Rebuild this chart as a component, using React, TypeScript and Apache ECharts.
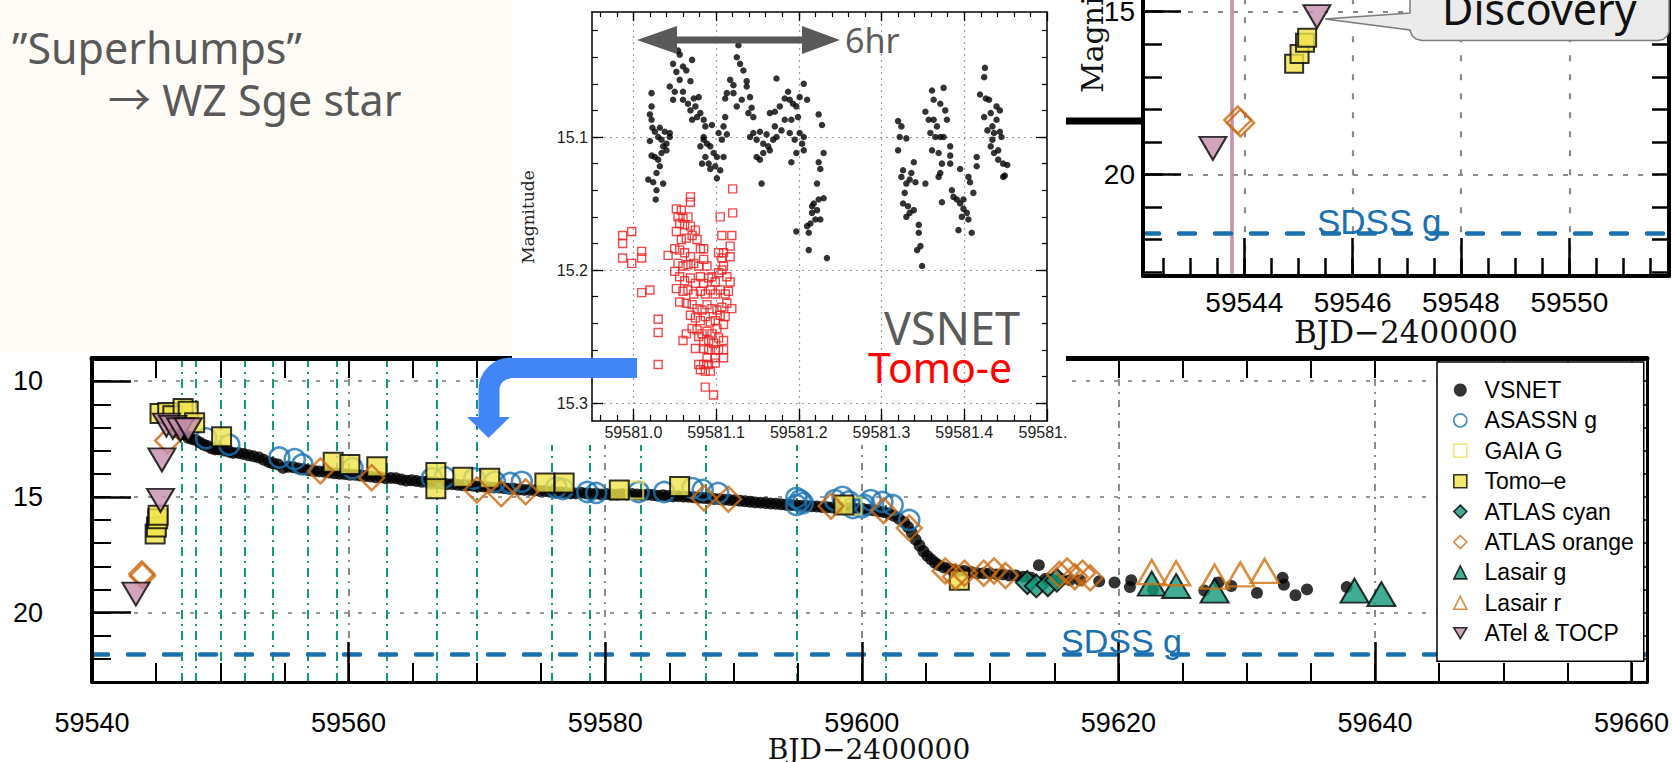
import React, { useEffect, useRef } from "react";
import * as echarts from "echarts";

// ---------------- Main light curve ----------------
const mainDayLabels = [59540, 59560, 59580, 59600, 59620, 59640, 59660];
const mainDayMinor = [59545, 59550, 59555, 59560, 59565, 59570, 59575, 59580, 59585, 59590, 59595, 59600, 59605, 59610, 59615, 59620, 59625, 59630, 59635, 59640, 59645, 59650, 59655, 59660];
const mainGridDays = [59560, 59580, 59600, 59620, 59640];
const mainMagLabels = [10, 15, 20];
const mainMagMinor = [10, 11, 12, 13, 14, 15, 16, 17, 18, 19, 20, 21, 22];
const sdssG = 21.8;
const dashDotDays = [59547.0, 59548.1, 59550.0, 59551.9, 59554.1, 59556.8, 59559.1, 59563.0, 59566.9, 59570.0, 59575.8, 59578.8, 59582.8, 59587.8, 59594.9, 59601.9];

const vsnet = [
  [59546.6, 12.2], [59546.9, 12.3], [59547.2, 12.3], [59547.5, 12.45], [59547.8, 12.5], [59548.1, 12.55], [59548.4, 12.65], [59548.7, 12.75], [59549.0, 12.8], [59549.3, 12.9], [59549.6, 12.95], [59549.9, 12.95],
  [59550.3, 13.0], [59550.7, 13.05], [59551.0, 13.1], [59551.4, 13.1], [59551.8, 13.15], [59552.2, 13.2], [59552.6, 13.25], [59553.0, 13.3], [59553.4, 13.4], [59553.8, 13.5], [59554.1, 13.55], [59554.5, 13.6],
  [59554.9, 13.75], [59555.3, 13.7], [59555.7, 13.72], [59556.1, 13.78], [59556.5, 13.8], [59556.9, 13.85], [59557.3, 13.88], [59557.7, 13.9], [59558.1, 13.92], [59558.5, 13.95], [59558.9, 13.98], [59559.3, 14.0],
  [59559.7, 14.02], [59560.1, 14.05], [59560.5, 14.05], [59560.9, 14.08], [59561.3, 14.1], [59561.7, 14.12], [59562.1, 14.15], [59562.5, 14.15], [59562.9, 14.2], [59563.3, 14.18], [59563.7, 14.2], [59564.1, 14.25],
  [59564.5, 14.3], [59564.9, 14.28], [59565.3, 14.32], [59565.7, 14.35], [59566.1, 14.35], [59566.5, 14.38], [59566.9, 14.4], [59567.3, 14.42], [59567.7, 14.45], [59568.1, 14.45], [59568.5, 14.48], [59568.9, 14.5],
  [59569.3, 14.5], [59569.7, 14.52], [59570.1, 14.55], [59570.5, 14.55], [59570.9, 14.58], [59571.3, 14.6], [59571.7, 14.6], [59572.1, 14.62], [59572.5, 14.65], [59572.9, 14.65], [59573.3, 14.68], [59573.7, 14.7],
  [59574.1, 14.7], [59574.5, 14.72], [59574.9, 14.75], [59575.3, 14.75], [59575.7, 14.78], [59576.1, 14.8], [59576.5, 14.8], [59576.9, 14.82], [59577.3, 14.85], [59577.7, 14.85], [59578.1, 14.82], [59578.5, 14.85],
  [59578.9, 14.88], [59579.3, 14.86], [59579.7, 14.9], [59580.1, 14.88], [59580.5, 14.9], [59580.9, 14.9], [59581.3, 14.88], [59581.7, 14.9], [59582.1, 14.88], [59582.5, 14.9], [59582.9, 14.92], [59583.3, 14.9],
  [59583.7, 14.92], [59584.1, 14.95], [59584.5, 14.93], [59584.9, 14.96], [59585.3, 14.98], [59585.7, 14.97], [59586.1, 14.99], [59586.5, 15.0], [59586.9, 15.02], [59587.3, 15.04], [59587.7, 15.05], [59588.1, 15.07],
  [59588.5, 15.09], [59588.9, 15.1], [59589.3, 15.12], [59589.7, 15.14], [59590.1, 15.15], [59590.5, 15.17], [59590.9, 15.19], [59591.3, 15.21], [59591.7, 15.24], [59592.1, 15.25], [59592.5, 15.27], [59592.9, 15.29],
  [59593.3, 15.3], [59593.7, 15.32], [59594.1, 15.34], [59594.5, 15.35], [59594.9, 15.37], [59595.3, 15.38], [59595.7, 15.4], [59596.1, 15.41], [59596.5, 15.42], [59596.9, 15.44], [59597.3, 15.45], [59597.7, 15.46],
  [59598.1, 15.47], [59598.5, 15.48], [59598.9, 15.5], [59599.3, 15.5], [59599.7, 15.52], [59600.1, 15.53], [59600.5, 15.56], [59600.9, 15.58], [59601.3, 15.62], [59601.7, 15.66], [59602.1, 15.72], [59602.5, 15.82],
  [59602.9, 15.95], [59603.3, 16.1], [59603.6, 16.3], [59603.9, 16.55], [59604.2, 16.85], [59604.5, 17.1], [59604.8, 17.35], [59605.1, 17.55], [59605.4, 17.7], [59605.7, 17.85], [59606.0, 17.95], [59606.4, 18.05],
  [59606.8, 18.1], [59607.2, 18.15], [59607.6, 18.2], [59608.0, 18.2], [59608.5, 18.25], [59609.0, 18.3], [59609.5, 18.3], [59610.0, 18.3], [59610.5, 18.35], [59611.0, 18.35], [59611.5, 18.4], [59612.0, 18.4],
  [59612.6, 18.45], [59613.2, 18.5], [59613.8, 17.95], [59614.3, 18.55], [59614.9, 18.6], [59615.5, 18.55], [59616.2, 18.6], [59617.0, 18.6], [59618.5, 18.65], [59619.7, 18.7], [59620.9, 18.9], [59621.0, 18.6],
  [59622.7, 19.0], [59626.7, 19.05], [59627.8, 18.7], [59628.8, 18.85], [59630.8, 19.15], [59632.8, 18.5], [59632.9, 18.8], [59633.8, 19.25], [59634.7, 19.0], [59637.8, 18.9]
];
const asassnG = [
  [59548.9, 12.47], [59550.7, 12.75], [59554.6, 13.3], [59555.8, 13.37], [59556.4, 13.6], [59560.3, 13.76], [59566.5, 14.2], [59567.5, 14.15], [59569.8, 14.2], [59571.4, 14.35], [59572.6, 14.4], [59573.5, 14.35],
  [59576.2, 14.6], [59576.7, 14.66], [59578.6, 14.79], [59579.3, 14.83], [59582.6, 14.79], [59584.6, 14.79], [59586.8, 14.62], [59587.6, 14.7], [59588.8, 14.83], [59594.9, 15.05], [59594.9, 15.35], [59595.2, 15.15],
  [59595.4, 15.27], [59597.9, 15.14], [59598.5, 15.0], [59599.0, 15.2], [59599.3, 15.48], [59600.0, 15.45], [59600.2, 15.35], [59600.7, 15.14], [59601.6, 15.22], [59602.4, 15.35], [59603.7, 16.0]
];
const gaiaG = [[59582.3, 14.7], [59599.3, 15.4]];
const tomoe = [
  [59544.92, 16.6], [59545.02, 16.3], [59545.12, 15.95], [59545.16, 15.8], [59545.3, 11.4], [59545.9, 11.35], [59546.3, 11.5], [59547.1, 11.18], [59547.5, 11.3], [59548.0, 11.8], [59550.1, 12.4], [59558.8, 13.5],
  [59560.1, 13.6], [59562.2, 13.7], [59566.8, 13.95], [59566.8, 14.65], [59568.9, 14.15], [59571.0, 14.2], [59575.3, 14.4], [59576.8, 14.4], [59581.1, 14.7], [59585.8, 14.55], [59598.6, 15.35], [59607.6, 18.6]
];
const atlasCyan = [[59612.9, 18.7], [59613.6, 18.85], [59614.5, 18.8], [59615.2, 18.6]];
const atlasOrange = [
  [59543.88, 18.33], [59543.93, 18.42], [59545.9, 12.57], [59557.8, 13.88], [59561.8, 14.17], [59570.0, 14.7], [59571.9, 14.86], [59573.8, 14.78], [59587.7, 15.05], [59589.6, 15.1], [59597.6, 15.4], [59601.7, 15.6],
  [59603.7, 16.35], [59606.5, 18.2], [59607.3, 18.45], [59608.0, 18.3], [59609.5, 18.3], [59610.3, 18.2], [59611.2, 18.4], [59615.4, 18.35], [59616.0, 18.2], [59616.6, 18.45], [59617.2, 18.3], [59617.8, 18.5]
];
const lasairG = [[59622.6, 18.75], [59624.5, 18.85], [59627.5, 19.05], [59638.4, 19.05], [59640.5, 19.2]];
const lasairR = [[59622.6, 18.25], [59624.5, 18.3], [59627.5, 18.45], [59629.5, 18.35], [59631.4, 18.2]];
const atelTocp = [[59543.42, 19.2], [59545.34, 15.15], [59545.45, 13.4], [59545.8, 11.9], [59546.3, 12.0], [59546.9, 12.1], [59547.5, 12.1]];

// ---------------- Inset: one night of superhumps ----------------
const insetDayLabels = [59581.0, 59581.1, 59581.2, 59581.3, 59581.4];
const insetDayCutLabel = "59581.";
const insetDayMajor = [59581.0, 59581.1, 59581.2, 59581.3, 59581.4, 59581.5];
const insetDayMinor = [59580.96, 59580.98, 59581.0, 59581.02, 59581.04, 59581.06, 59581.08, 59581.1, 59581.12, 59581.14, 59581.16, 59581.18, 59581.2, 59581.22, 59581.24, 59581.26, 59581.28, 59581.3, 59581.32, 59581.34, 59581.36, 59581.38, 59581.4, 59581.42, 59581.44, 59581.46, 59581.48];
const insetGridDays = [59581.0, 59581.1, 59581.2, 59581.3, 59581.4];
const insetMagLabels = [15.1, 15.2, 15.3];
const insetMagMinor = [15.02, 15.04, 15.06, 15.08, 15.1, 15.12, 15.14, 15.16, 15.18, 15.2, 15.22, 15.24, 15.26, 15.28, 15.3];

const insetVsnet = [
  [59581.022, 15.067], [59581.022, 15.077], [59581.020, 15.083], [59581.022, 15.087], [59581.023, 15.093], [59581.026, 15.096], [59581.032, 15.093], [59581.038, 15.096], [59581.044, 15.097], [59581.030, 15.100],
  [59581.034, 15.102], [59581.040, 15.105], [59581.020, 15.103], [59581.022, 15.114], [59581.026, 15.115], [59581.030, 15.117], [59581.034, 15.112], [59581.032, 15.122], [59581.028, 15.127], [59581.036, 15.135],
  [59581.028, 15.140], [59581.027, 15.147], [59581.018, 15.132], [59581.024, 15.134], [59581.044, 15.100], [59581.040, 15.110], [59581.036, 15.107],
  [59581.054, 15.035], [59581.056, 15.038], [59581.060, 15.047], [59581.048, 15.045], [59581.052, 15.051], [59581.064, 15.050], [59581.071, 15.042], [59581.069, 15.058], [59581.056, 15.057], [59581.044, 15.062],
  [59581.050, 15.066], [59581.060, 15.066], [59581.066, 15.075], [59581.073, 15.071], [59581.079, 15.070], [59581.075, 15.077], [59581.081, 15.082], [59581.085, 15.087], [59581.077, 15.085], [59581.069, 15.080],
  [59581.060, 15.072], [59581.048, 15.072], [59581.071, 15.087], [59581.087, 15.092],
  [59581.081, 15.107], [59581.085, 15.102], [59581.089, 15.105], [59581.093, 15.107], [59581.097, 15.112], [59581.101, 15.115], [59581.087, 15.115], [59581.091, 15.120], [59581.083, 15.120], [59581.093, 15.124],
  [59581.101, 15.131], [59581.105, 15.125], [59581.099, 15.122], [59581.109, 15.115], [59581.107, 15.102], [59581.113, 15.098], [59581.103, 15.097], [59581.109, 15.092], [59581.111, 15.085], [59581.095, 15.091], [59581.085, 15.100],
  [59581.121, 15.061], [59581.127, 15.031], [59581.125, 15.040], [59581.129, 15.045], [59581.133, 15.050], [59581.137, 15.058], [59581.117, 15.057], [59581.113, 15.067], [59581.111, 15.071], [59581.121, 15.067],
  [59581.125, 15.077], [59581.131, 15.072], [59581.137, 15.062], [59581.141, 15.070], [59581.143, 15.078], [59581.145, 15.085], [59581.139, 15.082],
  [59581.141, 15.100], [59581.145, 15.097], [59581.149, 15.102], [59581.153, 15.096], [59581.157, 15.105], [59581.161, 15.098], [59581.163, 15.107], [59581.157, 15.112], [59581.149, 15.115], [59581.153, 15.117],
  [59581.155, 15.135], [59581.165, 15.110], [59581.169, 15.102], [59581.173, 15.100], [59581.171, 15.092],
  [59581.165, 15.082], [59581.171, 15.081], [59581.177, 15.077], [59581.183, 15.071], [59581.187, 15.066], [59581.189, 15.072], [59581.193, 15.075], [59581.197, 15.077], [59581.201, 15.070], [59581.206, 15.060],
  [59581.210, 15.072], [59581.199, 15.085], [59581.191, 15.087], [59581.183, 15.087], [59581.179, 15.095], [59581.189, 15.097], [59581.195, 15.102], [59581.201, 15.097], [59581.206, 15.100], [59581.206, 15.110],
  [59581.191, 15.119], [59581.197, 15.112], [59581.204, 15.105], [59581.173, 15.056],
  [59581.224, 15.083], [59581.228, 15.091], [59581.230, 15.112], [59581.224, 15.119], [59581.226, 15.124], [59581.222, 15.135], [59581.218, 15.150], [59581.224, 15.147], [59581.230, 15.146], [59581.216, 15.157],
  [59581.220, 15.162], [59581.214, 15.165], [59581.210, 15.167], [59581.212, 15.172], [59581.197, 15.171], [59581.212, 15.185], [59581.234, 15.191], [59581.226, 15.162], [59581.222, 15.155], [59581.216, 15.152],
  [59581.320, 15.088], [59581.324, 15.092], [59581.322, 15.100], [59581.330, 15.101], [59581.320, 15.110], [59581.326, 15.125], [59581.324, 15.130], [59581.330, 15.135], [59581.334, 15.132], [59581.339, 15.119],
  [59581.336, 15.127], [59581.328, 15.142], [59581.326, 15.150], [59581.332, 15.152], [59581.339, 15.155], [59581.334, 15.157], [59581.330, 15.160], [59581.345, 15.166], [59581.345, 15.172], [59581.347, 15.182],
  [59581.343, 15.185], [59581.349, 15.197], [59581.341, 15.134], [59581.353, 15.135],
  [59581.361, 15.065], [59581.363, 15.072], [59581.353, 15.081], [59581.357, 15.087], [59581.363, 15.087], [59581.371, 15.075], [59581.375, 15.063], [59581.377, 15.080], [59581.379, 15.087], [59581.367, 15.092],
  [59581.359, 15.097], [59581.365, 15.100], [59581.371, 15.100], [59581.375, 15.100], [59581.383, 15.107], [59581.361, 15.110], [59581.369, 15.112], [59581.373, 15.120], [59581.371, 15.127], [59581.369, 15.130], [59581.383, 15.114],
  [59581.383, 15.120], [59581.395, 15.124], [59581.385, 15.140], [59581.387, 15.145], [59581.391, 15.147], [59581.395, 15.150], [59581.399, 15.154], [59581.403, 15.157], [59581.397, 15.160], [59581.405, 15.162],
  [59581.393, 15.170], [59581.409, 15.172], [59581.411, 15.142], [59581.407, 15.134], [59581.405, 15.130], [59581.415, 15.115], [59581.415, 15.122], [59581.399, 15.147], [59581.373, 15.149],
  [59581.425, 15.048], [59581.424, 15.055], [59581.419, 15.068], [59581.426, 15.071], [59581.430, 15.072], [59581.424, 15.085], [59581.432, 15.082], [59581.439, 15.077], [59581.443, 15.080], [59581.439, 15.087],
  [59581.434, 15.092], [59581.428, 15.095], [59581.436, 15.097], [59581.443, 15.096], [59581.445, 15.100], [59581.432, 15.107], [59581.441, 15.110], [59581.436, 15.112], [59581.441, 15.117], [59581.447, 15.120],
  [59581.452, 15.121], [59581.449, 15.129], [59581.447, 15.130], [59581.434, 15.102]
];
const insetTomoe = [
  [59580.987, 15.174], [59580.987, 15.180], [59580.998, 15.171], [59580.987, 15.191], [59580.998, 15.195], [59581.010, 15.186], [59581.010, 15.191], [59581.010, 15.217], [59581.020, 15.215], [59581.030, 15.237],
  [59581.030, 15.247], [59581.030, 15.271], [59581.042, 15.189],
  [59581.052, 15.154], [59581.058, 15.155], [59581.054, 15.160], [59581.060, 15.161], [59581.066, 15.160], [59581.069, 15.145], [59581.069, 15.149], [59581.056, 15.165], [59581.062, 15.166], [59581.069, 15.167],
  [59581.075, 15.170], [59581.052, 15.171], [59581.058, 15.177], [59581.064, 15.176], [59581.071, 15.174], [59581.077, 15.177], [59581.081, 15.184], [59581.050, 15.184], [59581.056, 15.185], [59581.062, 15.187],
  [59581.069, 15.190], [59581.054, 15.195], [59581.060, 15.197], [59581.066, 15.196], [59581.073, 15.195], [59581.079, 15.197], [59581.085, 15.192], [59581.089, 15.197], [59581.050, 15.201], [59581.056, 15.205],
  [59581.062, 15.208], [59581.069, 15.206], [59581.075, 15.210], [59581.081, 15.205], [59581.085, 15.210], [59581.091, 15.206], [59581.095, 15.205], [59581.099, 15.209], [59581.103, 15.202], [59581.107, 15.200],
  [59581.109, 15.197], [59581.113, 15.205], [59581.117, 15.209], [59581.052, 15.214], [59581.060, 15.216], [59581.066, 15.215], [59581.073, 15.218], [59581.081, 15.216], [59581.087, 15.218], [59581.093, 15.215],
  [59581.099, 15.218], [59581.105, 15.215], [59581.111, 15.218], [59581.115, 15.216], [59581.056, 15.224], [59581.064, 15.225], [59581.071, 15.226], [59581.077, 15.229], [59581.083, 15.230], [59581.089, 15.226],
  [59581.095, 15.229], [59581.101, 15.230], [59581.107, 15.228], [59581.113, 15.225], [59581.119, 15.229], [59581.069, 15.234], [59581.075, 15.236], [59581.081, 15.238], [59581.087, 15.235], [59581.093, 15.239],
  [59581.099, 15.238], [59581.105, 15.234], [59581.111, 15.235], [59581.071, 15.244], [59581.077, 15.245], [59581.083, 15.248], [59581.089, 15.246], [59581.095, 15.248], [59581.101, 15.244], [59581.109, 15.241],
  [59581.079, 15.250], [59581.085, 15.254], [59581.091, 15.253], [59581.097, 15.255], [59581.103, 15.251], [59581.109, 15.253], [59581.085, 15.259], [59581.091, 15.260], [59581.099, 15.260], [59581.103, 15.260],
  [59581.109, 15.260], [59581.089, 15.266], [59581.099, 15.266], [59581.109, 15.266], [59581.079, 15.271], [59581.085, 15.271], [59581.091, 15.271], [59581.099, 15.270], [59581.081, 15.275], [59581.087, 15.276],
  [59581.093, 15.276], [59581.087, 15.288], [59581.097, 15.294], [59581.060, 15.253], [59581.064, 15.248], [59581.107, 15.191], [59581.117, 15.190], [59581.117, 15.182], [59581.119, 15.174], [59581.107, 15.174],
  [59581.105, 15.160], [59581.120, 15.157], [59581.120, 15.139], [59581.103, 15.187], [59581.109, 15.187], [59581.085, 15.184], [59581.075, 15.259]
];

// ---------------- Inset: the rise and discovery ----------------
const riseDayLabels = [59544, 59546, 59548, 59550];
const riseDayMinor = [59542.5, 59543, 59543.5, 59544, 59544.5, 59545, 59545.5, 59546, 59546.5, 59547, 59547.5, 59548, 59548.5, 59549, 59549.5, 59550, 59550.5, 59551, 59551.5];
const riseMagLabels = [15, 20];
const riseMagMinor = [15, 16, 17, 18, 19, 20, 21, 22, 23];
const preDiscoveryDay = 59543.77;

const legendNames = ["VSNET", "ASASSN g", "GAIA G", "Tomo–e", "ATLAS cyan", "ATLAS orange", "Lasair g", "Lasair r", "ATel & TOCP"];

const SANS = "'Liberation Sans', Arial, sans-serif";
const SERIF = "'DejaVu Serif', serif";
const NOTO = "'Noto Sans', 'Noto Sans CJK JP', sans-serif";
const DOWN_TRI = "path://M0,0L20,0L10,17Z";

function axis(o: any) {
  return {
    type: "value",
    gridIndex: o.grid,
    position: o.pos,
    min: o.min,
    max: o.max,
    inverse: !!o.inverse,
    z: o.z,
    axisLine: { show: !!o.line, onZero: false, lineStyle: { color: "#000", width: o.line || 1 } },
    axisTick: { show: true, inside: true, length: o.len, customValues: o.ticks, lineStyle: { color: "#000", width: o.tw || 2 } },
    axisLabel: o.labels
      ? { show: true, customValues: o.labels, formatter: o.fmt, fontSize: o.fs, margin: o.margin, color: o.color || "#000", fontFamily: SANS }
      : { show: false },
    splitLine: { show: false },
    axisPointer: { show: false },
  };
}

function lines(xi: number, yi: number, z: number, data: any[]) {
  return {
    type: "scatter",
    name: "lines" + xi,
    xAxisIndex: xi,
    yAxisIndex: yi,
    data: [],
    z,
    markLine: { silent: true, symbol: "none", label: { show: false }, emphasis: { disabled: true }, animation: false, z, data },
  };
}

export default function App() {
  const ref = useRef<HTMLDivElement>(null);
  useEffect(() => {
    const chart = echarts.init(ref.current!, null, { renderer: "svg", width: 1672, height: 762 });
    const MX = [59540, 59661.2];
    const MY = [9, 23];
    const IX = [59580.95, 59581.5];
    const IY = [15.006, 15.3135];
    const RX = [59542.13, 59551.84];
    const RY = [14, 23.124];
    const grayV = { type: [7, 6, 2, 6], color: "#666", width: 1.5 };
    const grayH = { type: [4, 10], color: "#999", width: 2 };
    const green = { type: [9, 5, 2, 5], color: "#14997a", width: 2 };
    const sdss = { type: [16, 20], color: "#1b70b0", width: 4.5, cap: "round" };
    const dotI = { type: [2, 4], color: "#9d9d9d", width: 1.2 };
    const dotR = { type: [6, 13], color: "#8a8a8a", width: 2.2 };
    const m = (s: any) => ({ xAxisIndex: 0, yAxisIndex: 0, type: "scatter", z: 2, ...s });
    const fmtInt = (v: number) => String(Math.round(v));
    const fmt1 = (v: number) => v.toFixed(1);

    const option: any = {
      animation: false,
      backgroundColor: "#ffffff",
      textStyle: { fontFamily: SANS },
      grid: [
        { left: 92, top: 358, width: 1555, height: 324, outerBoundsMode: "none", containLabel: false },
        { left: 592, top: 12, width: 455, height: 409, outerBoundsMode: "none", containLabel: false },
        { left: 1143, top: -20.8, width: 526, height: 296.8, outerBoundsMode: "none", containLabel: false },
      ],
      xAxis: [
        axis({ grid: 0, pos: "bottom", min: MX[0], max: MX[1], z: 1, line: 3, ticks: mainDayLabels, len: 40, tw: 2.5, labels: mainDayLabels, fmt: fmtInt, fs: 27, margin: 27 }),
        axis({ grid: 0, pos: "bottom", min: MX[0], max: MX[1], z: 1, ticks: mainDayMinor, len: 19 }),
        axis({ grid: 0, pos: "top", min: MX[0], max: MX[1], z: 1, line: 5, ticks: mainDayMinor, len: 20 }),
        axis({ grid: 1, pos: "bottom", min: IX[0], max: IX[1], z: 11, line: 1.5, ticks: insetDayMajor, len: 12, tw: 1.3, labels: insetDayLabels, fmt: fmt1, fs: 16, margin: 3, color: "#222" }),
        axis({ grid: 1, pos: "bottom", min: IX[0], max: IX[1], z: 11, ticks: insetDayMinor, len: 6, tw: 1.2 }),
        axis({ grid: 1, pos: "top", min: IX[0], max: IX[1], z: 11, line: 1.5, ticks: insetDayMajor, len: 9, tw: 1.3 }),
        axis({ grid: 1, pos: "top", min: IX[0], max: IX[1], z: 11, ticks: insetDayMinor, len: 5, tw: 1.2 }),
        axis({ grid: 2, pos: "bottom", min: RX[0], max: RX[1], z: 21, line: 4, ticks: riseDayLabels, len: 38, tw: 2.5, labels: riseDayLabels, fmt: fmtInt, fs: 28, margin: 12 }),
        axis({ grid: 2, pos: "bottom", min: RX[0], max: RX[1], z: 21, ticks: riseDayMinor, len: 18, tw: 2.5 }),
      ],
      yAxis: [
        axis({ grid: 0, pos: "left", min: MY[0], max: MY[1], inverse: true, z: 1, line: 4, ticks: mainMagMinor, len: 19, labels: mainMagLabels, fmt: fmtInt, fs: 27, margin: 49 }),
        axis({ grid: 0, pos: "left", min: MY[0], max: MY[1], inverse: true, z: 1, ticks: mainMagLabels, len: 39, tw: 2.5 }),
        axis({ grid: 0, pos: "right", min: MY[0], max: MY[1], inverse: true, z: 1, line: 3, ticks: mainMagMinor, len: 6, tw: 1.5 }),
        axis({ grid: 1, pos: "left", min: IY[0], max: IY[1], inverse: true, z: 11, line: 1.5, ticks: insetMagMinor, len: 6, tw: 1.2, labels: insetMagLabels, fmt: fmt1, fs: 16, margin: 4, color: "#222" }),
        axis({ grid: 1, pos: "left", min: IY[0], max: IY[1], inverse: true, z: 11, ticks: insetMagLabels, len: 11, tw: 1.3 }),
        axis({ grid: 1, pos: "right", min: IY[0], max: IY[1], inverse: true, z: 11, line: 1.5, ticks: insetMagMinor, len: 5, tw: 1.2 }),
        axis({ grid: 1, pos: "right", min: IY[0], max: IY[1], inverse: true, z: 11, ticks: insetMagLabels, len: 11, tw: 1.3 }),
        axis({ grid: 2, pos: "left", min: RY[0], max: RY[1], inverse: true, z: 21, line: 4, ticks: riseMagMinor, len: 19, tw: 2.5, labels: riseMagLabels, fmt: fmtInt, fs: 28, margin: 8 }),
        axis({ grid: 2, pos: "left", min: RY[0], max: RY[1], inverse: true, z: 21, ticks: riseMagLabels, len: 38, tw: 2.5 }),
        axis({ grid: 2, pos: "right", min: RY[0], max: RY[1], inverse: true, z: 21, line: 4, ticks: riseMagMinor, len: 17, tw: 2.5 }),
      ],
      legend: {
        data: legendNames,
        orient: "vertical",
        left: 1437,
        top: 362,
        padding: [16, 10, 16, 16],
        itemGap: 6.4,
        itemWidth: 13,
        itemHeight: 13,
        backgroundColor: "#ffffff",
        borderColor: "#000",
        borderWidth: 1.5,
        selectedMode: false,
        formatter: (n: string) => "\u00a0\u00a0" + n,
        itemStyle: { borderWidth: 1.6 },
        textStyle: { fontSize: 23, fontFamily: SANS, color: "#000", lineHeight: 24 },
        z: 4,
      },
      series: [
        lines(0, 0, 1, [
          ...mainGridDays.map((d) => ({ xAxis: d, lineStyle: grayV })),
          ...mainMagLabels.map((v) => ({ yAxis: v, lineStyle: grayH })),
          ...dashDotDays.map((d) => ({ xAxis: d, lineStyle: green })),
          { yAxis: sdssG, lineStyle: sdss },
        ]),
        m({ name: "VSNET", data: vsnet, symbol: "circle", symbolSize: 12, itemStyle: { color: "#000" } }),
        m({ name: "ASASSN g", data: asassnG, symbol: "circle", symbolSize: 20, itemStyle: { color: "rgba(255,255,255,0)", borderColor: "#1a73b3", borderWidth: 2.6 } }),
        m({ name: "GAIA G", data: gaiaG, symbol: "rect", symbolSize: 17, itemStyle: { color: "rgba(255,255,255,0)", borderColor: "#eee05a", borderWidth: 2 } }),
        m({ name: "Tomo–e", data: tomoe, symbol: "rect", symbolSize: 19, itemStyle: { color: "#f0e44a", borderColor: "#000", borderWidth: 2 } }),
        m({ name: "ATLAS cyan", data: atlasCyan, symbol: "diamond", symbolSize: 23, itemStyle: { color: "#13977a", borderColor: "#000", borderWidth: 2 } }),
        m({ name: "ATLAS orange", data: atlasOrange, symbol: "diamond", symbolSize: 25, itemStyle: { color: "rgba(255,255,255,0)", borderColor: "#cc6a12", borderWidth: 2.5 } }),
        m({ name: "Lasair g", data: lasairG, symbol: "triangle", symbolSize: [28, 24], itemStyle: { color: "#13987b", borderColor: "#000", borderWidth: 2 } }),
        m({ name: "Lasair r", data: lasairR, symbol: "triangle", symbolSize: [28, 24], itemStyle: { color: "rgba(255,255,255,0)", borderColor: "#d07312", borderWidth: 2.5 } }),
        m({ name: "ATel & TOCP", data: atelTocp, symbol: DOWN_TRI, symbolSize: [27, 23], itemStyle: { color: "#c48fad", borderColor: "#000", borderWidth: 2 } }),

        lines(3, 3, 11, [
          ...insetGridDays.map((d) => ({ xAxis: d, lineStyle: dotI })),
          ...insetMagLabels.map((v) => ({ yAxis: v, lineStyle: dotI })),
        ]),
        { type: "scatter", name: "VSNET inset", xAxisIndex: 3, yAxisIndex: 3, z: 12, data: insetVsnet, symbol: "circle", symbolSize: 6.5, itemStyle: { color: "#000" } },
        { type: "scatter", name: "Tomo-e inset", xAxisIndex: 3, yAxisIndex: 3, z: 12, data: insetTomoe, symbol: "rect", symbolSize: 8, itemStyle: { color: "rgba(255,255,255,0)", borderColor: "#ee1d1d", borderWidth: 1.4 } },

        lines(7, 7, 21, [
          ...riseDayLabels.map((d) => ({ xAxis: d, lineStyle: dotR })),
          ...riseMagLabels.map((v) => ({ yAxis: v, lineStyle: { type: [5, 10], color: "#8a8a8a", width: 2.2 } })),
          { xAxis: preDiscoveryDay, lineStyle: { type: "solid", color: "#c68fad", width: 3.5 } },
          { yAxis: sdssG, lineStyle: sdss },
        ]),
        { type: "scatter", name: "ATLAS orange rise", xAxisIndex: 7, yAxisIndex: 7, z: 23, data: atlasOrange, symbol: "diamond", symbolSize: 27, itemStyle: { color: "rgba(255,255,255,0)", borderColor: "#cc6a12", borderWidth: 2.5 } },
        { type: "scatter", name: "Tomo-e rise", xAxisIndex: 7, yAxisIndex: 7, z: 23, data: tomoe, symbol: "rect", symbolSize: 18, itemStyle: { color: "#f0e44a", borderColor: "#000", borderWidth: 2 } },
        { type: "scatter", name: "ATel rise", xAxisIndex: 7, yAxisIndex: 7, z: 23, data: atelTocp, symbol: DOWN_TRI, symbolSize: [27, 23], itemStyle: { color: "#c48fad", borderColor: "#000", borderWidth: 2 } },
      ],
      graphic: [
        { type: "rect", z: 0, silent: true, shape: { x: 0, y: 0, width: 512, height: 353 }, style: { fill: "#fffcf7" } },
        { type: "rect", z: 10, silent: true, shape: { x: 512, y: 0, width: 554, height: 445 }, style: { fill: "#ffffff" } },
        { type: "rect", z: 20, silent: true, shape: { x: 1066, y: 0, width: 606, height: 351 }, style: { fill: "#ffffff" } },

        { type: "text", z: 30, x: 12, y: 47, style: { text: "”Superhumps”", fill: "#595959", fontSize: 43, fontFamily: NOTO, align: "left", verticalAlign: "middle" } },
        { type: "text", z: 30, x: 108, y: 99, style: { text: "→ WZ Sge star", fill: "#595959", fontSize: 43, fontFamily: NOTO, align: "left", verticalAlign: "middle" } },

        { type: "polygon", z: 30, shape: { points: [[637, 40], [677, 26], [677, 36.5], [802, 36.5], [802, 26], [840, 40], [802, 54], [802, 43.5], [677, 43.5], [677, 54]] }, style: { fill: "#595959" } },
        { type: "text", z: 30, x: 845, y: 40, style: { text: "6hr", fill: "#5c5c5c", fontSize: 34, fontFamily: NOTO, align: "left", verticalAlign: "middle" } },
        { type: "text", z: 30, x: 884, y: 327, style: { text: "VSNET", fill: "#5a5a5a", fontSize: 45, fontFamily: NOTO, align: "left", verticalAlign: "middle" } },
        { type: "text", z: 30, x: 868, y: 367, style: { text: "Tomo-e", fill: "#ff0000", fontSize: 41, fontFamily: NOTO, align: "left", verticalAlign: "middle" } },
        { type: "text", z: 30, x: 528, y: 217, rotation: Math.PI / 2, style: { text: "Magnitude", fill: "#222", fontSize: 17, fontFamily: SERIF, align: "center", verticalAlign: "middle" } },
        { type: "text", z: 11, x: 1018.5, y: 432, style: { text: insetDayCutLabel, fill: "#222", fontSize: 16, fontFamily: SANS, align: "left", verticalAlign: "middle" } },

        { type: "line", z: 30, shape: { x1: 637, y1: 368, x2: 511, y2: 368 }, style: { stroke: "#4285f4", lineWidth: 20 } },
        { type: "arc", z: 30, shape: { cx: 511, cy: 390, r: 22, startAngle: Math.PI, endAngle: Math.PI * 1.5, clockwise: true }, style: { stroke: "#4285f4", lineWidth: 21 } },
        { type: "line", z: 30, shape: { x1: 489, y1: 390, x2: 489, y2: 419 }, style: { stroke: "#4285f4", lineWidth: 21 } },
        { type: "polygon", z: 30, shape: { points: [[467, 417], [510, 417], [488.5, 438]] }, style: { fill: "#4285f4" } },

        { type: "text", z: 5, x: 1061, y: 641, style: { text: "SDSS g", fill: "#1b70b0", fontSize: 34, fontFamily: SANS, align: "left", verticalAlign: "middle" } },
        { type: "text", z: 5, x: 869, y: 749, style: { text: "BJD−2400000", fill: "#111", fontSize: 28, fontFamily: SERIF, align: "center", verticalAlign: "middle" } },

        { type: "line", z: 21, shape: { x1: 1066, y1: 121, x2: 1143, y2: 121 }, style: { stroke: "#000", lineWidth: 7 } },
        { type: "text", z: 22, x: 1317, y: 221, style: { text: "SDSS g", fill: "#1b70b0", fontSize: 35, fontFamily: SANS, align: "left", verticalAlign: "middle" } },
        { type: "text", z: 22, x: 1406, y: 332, style: { text: "BJD−2400000", fill: "#111", fontSize: 31, fontFamily: SERIF, align: "center", verticalAlign: "middle" } },
        { type: "text", z: 22, x: 1092, y: 93, rotation: Math.PI / 2, style: { text: "Magnitude", fill: "#111", fontSize: 30, fontFamily: SERIF, align: "left", verticalAlign: "middle" } },
        {
          type: "polygon", z: 22,
          shape: { points: [[1325, 19], [1410, 13], [1410, -5], [1669, -5], [1669, 32], [1667, 36], [1663, 39.5], [1658, 40.5], [1422, 40.5], [1416, 39], [1412, 35.5], [1410, 30]] },
          style: { fill: "#ebebeb", stroke: "#7d7d7d", lineWidth: 1.5 },
        },
        { type: "text", z: 22, x: 1442, y: 8, style: { text: "Discovery", fill: "#111", fontSize: 43, fontFamily: NOTO, align: "left", verticalAlign: "middle" } },
      ],
    };
    chart.setOption(option);
    return () => chart.dispose();
  }, []);
  return <div ref={ref} style={{ position: "fixed", left: 0, top: 0, width: 1672, height: 762 }} />;
}
